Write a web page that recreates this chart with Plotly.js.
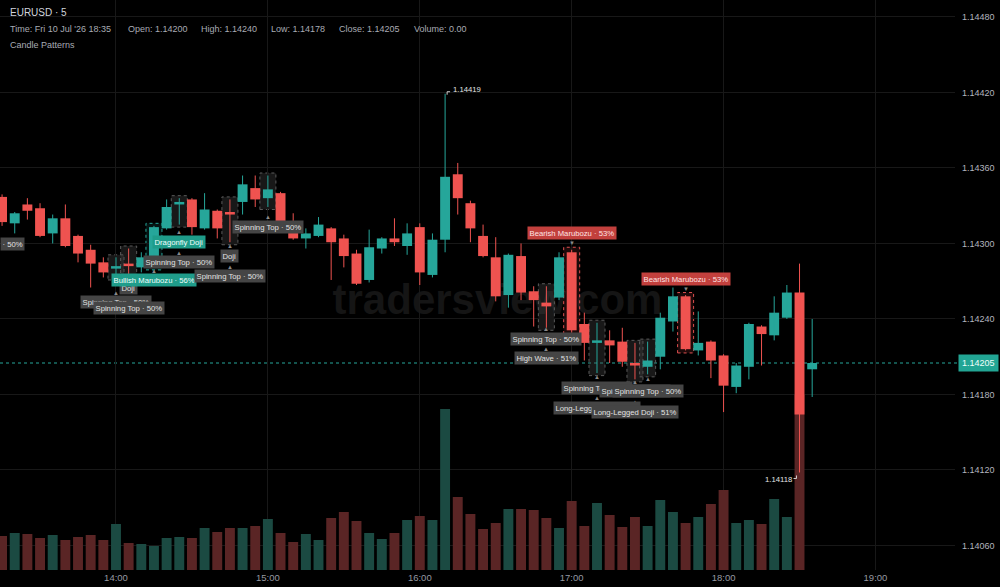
<!DOCTYPE html>
<html><head><meta charset="utf-8">
<script src="https://cdn.plot.ly/plotly-3.0.1.min.js"></script>
<style>html,body{margin:0;padding:0;background:#000;}#chart{width:1000px;height:587px;}</style>
</head><body><div id="chart"></div>
<script>
// ---------------- DATA ----------------
const day = '2026-07-10';
const times = ['13:15','13:20','13:25','13:30','13:35','13:40','13:45','13:50','13:55',
 '14:00','14:05','14:10','14:15','14:20','14:25','14:30','14:35','14:40','14:45','14:50','14:55',
 '15:00','15:05','15:10','15:15','15:20','15:25','15:30','15:35','15:40','15:45','15:50','15:55',
 '16:00','16:05','16:10','16:15','16:20','16:25','16:30','16:35','16:40','16:45','16:50','16:55',
 '17:00','17:05','17:10','17:15','17:20','17:25','17:30','17:35','17:40','17:45','17:50','17:55',
 '18:00','18:05','18:10','18:15','18:20','18:25','18:30','18:35'];
const open = [1.14337,1.14316,1.14331,1.14328,1.14308,1.14320,1.14306,1.14295,1.14285,
 1.14280,1.14283,1.14281,1.14282,1.14312,1.14331,1.14335,1.14312,1.14326,1.14324,1.14333,1.14344,
 1.14336,1.14340,1.14309,1.14304,1.14306,1.14312,1.14304,1.14292,1.14271,1.14296,1.14304,1.14298,
 1.14313,1.14275,1.14303,1.14355,1.14332,1.14306,1.14289,1.14259,1.14290,1.14262,1.14253,1.14257,
 1.14293,1.14236,1.14221,1.14223,1.14222,1.14204,1.14202,1.14210,1.14238,1.14258,1.14215,1.14222,
 1.14211,1.14186,1.14202,1.14234,1.14227,1.14241,1.14261,1.14200];
const high = [1.14339,1.14325,1.14336,1.14332,1.14323,1.14331,1.14307,1.14299,1.14289,
 1.14289,1.14296,1.14293,1.14314,1.14335,1.14336,1.14336,1.14340,1.14327,1.14335,1.14354,1.14354,
 1.14354,1.14341,1.14324,1.14312,1.14321,1.14313,1.14307,1.14295,1.14311,1.14305,1.14320,1.14316,
 1.14316,1.14308,1.14419,1.14364,1.14334,1.14315,1.14305,1.14292,1.14300,1.14266,1.14266,1.14293,
 1.14295,1.14245,1.14237,1.14231,1.14233,1.14221,1.14222,1.14245,1.14265,1.14259,1.14246,1.14223,
 1.14212,1.14205,1.14237,1.14235,1.14258,1.14267,1.14284,1.14240];
const low = [1.14314,1.14308,1.14319,1.14305,1.14300,1.14297,1.14285,1.14265,1.14273,
 1.14273,1.14273,1.14277,1.14281,1.14311,1.14315,1.14307,1.14311,1.14304,1.14301,1.14323,1.14329,
 1.14329,1.14313,1.14303,1.14296,1.14305,1.14271,1.14281,1.14267,1.14269,1.14292,1.14298,1.14291,
 1.14267,1.14273,1.14293,1.14323,1.14301,1.14289,1.14254,1.14249,1.14255,1.14234,1.14233,1.14255,
 1.14229,1.14207,1.14197,1.14205,1.14202,1.14192,1.14196,1.14200,1.14230,1.14215,1.14211,1.14193,
 1.14166,1.14181,1.14192,1.14203,1.14223,1.14240,1.14118,1.14178];
const close = [1.14317,1.14324,1.14326,1.14306,1.14320,1.14298,1.14292,1.14284,1.14277,
 1.14282,1.14282,1.14289,1.14313,1.14329,1.14332,1.14313,1.14327,1.14312,1.14323,1.14347,1.14335,
 1.14343,1.14316,1.14304,1.14308,1.14315,1.14301,1.14290,1.14268,1.14297,1.14304,1.14301,1.14308,
 1.14277,1.14303,1.14353,1.14336,1.14312,1.14290,1.14258,1.14291,1.14261,1.14255,1.14250,1.14289,
 1.14231,1.14221,1.14222,1.14219,1.14206,1.14203,1.14207,1.14241,1.14258,1.14216,1.14221,1.14207,
 1.14187,1.14203,1.14236,1.14228,1.14245,1.14261,1.14164,1.14205];
const volume = [340,370,360,320,350,300,330,350,300,
 460,270,260,240,320,330,320,420,380,420,420,440,
 510,370,280,360,300,520,580,490,370,310,370,500,
 540,500,1610,730,560,410,470,610,610,600,520,420,
 690,440,670,550,430,530,440,700,580,470,530,660,
 800,470,500,460,710,530,1750,0];

const priceTicks = [1.14060,1.14120,1.14180,1.14240,1.14300,1.14360,1.14420,1.14480];
const hourTicks = ['14:00','15:00','16:00','17:00','18:00','19:00'];
const lastPrice = 1.14205;

const patternTimes = ['14:00','14:05','14:05','14:15','14:25','14:25','14:45','14:45','15:00',
 '16:50','16:50','17:00','17:10','17:10','17:25','17:25','17:30','17:45'];
const patternNames = ['Spinning Top · 50%','Doji','Spinning Top · 50%','Bullish Marubozu · 56%',
 'Dragonfly Doji','Spinning Top · 50%','Doji','Spinning Top · 50%','Spinning Top · 50%',
 'Spinning Top · 50%','High Wave · 51%','Bearish Marubozu · 53%','Spinning Top · 50%',
 'Long-Legged Doji · 51%','Spinning Top · 50%','Long-Legged Doji · 51%','Spinning Top · 50%',
 'Bearish Marubozu · 53%'];
const patternKinds = ['neutral','neutral','neutral','bull','bull','neutral','neutral','neutral','neutral',
 'neutral','neutral','bear','neutral','neutral','neutral','neutral','neutral','bear'];
const boxTimes = ['14:00','14:05','14:15','14:25','14:45','15:00','16:50','17:00','17:10','17:25','17:30','17:45'];
const boxKinds = ['neutral','neutral','bull','neutral','neutral','neutral','neutral','bear','neutral','neutral','neutral','bear'];

const headerTitle = 'EURUSD · 5';
const headerFields = ["Time: Fri 10 Jul '26 18:35",'Open: 1.14200','High: 1.14240','Low: 1.14178','Close: 1.14205','Volume: 0.00'];
const headerIndicator = 'Candle Patterns';
const watermark = 'tradersview.com';

// ---------------- STYLE ----------------
const FONT = '"Liberation Sans", Arial, Helvetica, sans-serif';
const UP = '#26a69a', DN = '#ef5350', VUP = '#1b4a42', VDN = '#5a2525';
const W = 955, H = 570;
const px = v => v / W, py = v => 1 - v / H;
// label pixel offsets from candle low (below) / high (above)
const patternDy  = [25,11,31,13,17,37,14,34,20,11,30,17,15,35,12,33,17,16];
const patternTri = [16,null,22,4,7,28,4,25,10,1,21,7,4,25,3,23,5,6];
const headerX = [8,126,199,269,337,412];
const BARW = 235000;

const T = times.map(t => day + ' ' + t + ':00');
const idx = t => times.indexOf(t);
const isUp = close.map((c, i) => c >= open[i]);

const traces = [];
traces.push({type:'bar', x:T, y:volume, yaxis:'y', width:BARW,
  marker:{color:isUp.map(u => u ? VUP : VDN), line:{width:0}}, hoverinfo:'skip'});
function wick(sel, color){
  const x = [], y = [];
  T.forEach((t,i) => { if(sel(i)){ x.push(t,t,null); y.push(low[i],high[i],null); } });
  return {type:'scatter', mode:'lines', x, y, yaxis:'y2', line:{color, width:1}, hoverinfo:'skip'};
}
function body(sel, color){
  const x = [], b = [], h = [];
  T.forEach((t,i) => { if(sel(i)){ x.push(t); b.push(Math.min(open[i],close[i]));
    h.push(Math.max(Math.abs(close[i]-open[i]), 0.00002)); } });
  return {type:'bar', x, base:b, y:h, yaxis:'y2', width:BARW, marker:{color, line:{width:0}}, hoverinfo:'skip'};
}
traces.push(wick(i => isUp[i], UP), wick(i => !isUp[i], DN));
traces.push(body(i => isUp[i], UP), body(i => !isUp[i], DN));

const shapes = [];
// watermark
shapes.push({type:'rect', xref:'paper', yref:'paper', x0:px(325), x1:px(670), y0:py(315), y1:py(275),
  line:{width:0}, fillcolor:'rgba(0,0,0,0)', layer:'below',
  label:{text:watermark, textposition:'middle center', font:{size:42, color:'#151515', family:FONT, weight:'bold'}}});
// pattern boxes
const boxLine = {neutral:'#5a5a5a', bull:'#26a69a', bear:'#e05050'};
const boxFill = {neutral:'rgba(70,70,70,0.35)', bull:'rgba(38,166,154,0.12)', bear:'rgba(239,83,80,0.12)'};
boxTimes.forEach((t,k) => {
  const i = idx(t);
  shapes.push({type:'rect', xref:'x', yref:'y2', xsizemode:'pixel', xanchor:T[i], x0:-8, x1:8,
    y0:low[i]-0.00002, y1:high[i]+0.00002, layer:'below',
    line:{color:boxLine[boxKinds[k]], width:1, dash:'dot'}, fillcolor:boxFill[boxKinds[k]]});
});
// current price line
shapes.push({type:'line', xref:'paper', yref:'y2', x0:0, x1:1.012, y0:lastPrice, y1:lastPrice,
  line:{color:UP, width:1, dash:'3px,3px'}, layer:'below'});
// hi / lo brackets
const hiI = high.indexOf(Math.max(...high)), loI = low.indexOf(Math.min(...low));
shapes.push({type:'path', xref:'x', yref:'y2', xsizemode:'pixel', ysizemode:'pixel', xanchor:T[hiI], yanchor:high[hiI],
  path:'M 2 -1 L 2 2 L 5 2', line:{color:'#d0d0d0', width:1}});
shapes.push({type:'path', xref:'x', yref:'y2', xsizemode:'pixel', ysizemode:'pixel', xanchor:T[loI], yanchor:low[loI],
  path:'M -6 -6 L -3 -6 L -3 -3', line:{color:'#d0d0d0', width:1}});

const annotations = [];
// header
annotations.push({xref:'paper', yref:'paper', x:px(8), y:py(13), xanchor:'left', yanchor:'middle', showarrow:false,
  text:headerTitle, font:{size:10, color:'#d1d4dc', family:FONT}});
headerFields.forEach((f,k) => annotations.push({xref:'paper', yref:'paper', x:px(headerX[k]), y:py(29),
  xanchor:'left', yanchor:'middle', showarrow:false, text:f, font:{size:9, color:'#a8abb3', family:FONT}}));
annotations.push({xref:'paper', yref:'paper', x:px(8), y:py(45), xanchor:'left', yanchor:'middle', showarrow:false,
  text:headerIndicator, font:{size:9, color:'#a8abb3', family:FONT}});

const labBg = {neutral:'#454545', bull:'#1f9c8a', bear:'#c2403d'};
const labFg = {neutral:'#e2e2e2', bull:'#f0fffc', bear:'#ffe4e4'};
// left clipped label
annotations.push({xref:'paper', yref:'paper', x:0, y:py(244), xanchor:'left', yanchor:'middle', showarrow:false,
  text:'· 50%', bgcolor:labBg.neutral, borderpad:1.5, font:{size:7.7, color:labFg.neutral, family:FONT}});
// triangles
patternTimes.forEach((t,k) => {
  if(patternTri[k] === null) return;
  const i = idx(t), above = patternKinds[k] === 'bear';
  annotations.push({xref:'x', yref:'y2', x:T[i], y:above ? high[i] : low[i], yshift:above ? patternTri[k] : -patternTri[k],
    showarrow:false, text:above ? '▼' : '▲', font:{size:6, color:'#8a8a8a'}, xanchor:'center', yanchor:'middle'});
});
// labels
patternTimes.forEach((t,k) => {
  const i = idx(t), kind = patternKinds[k], above = kind === 'bear';
  annotations.push({xref:'x', yref:'y2', x:T[i], y:above ? high[i] : low[i], yshift:above ? patternDy[k] : -patternDy[k],
    showarrow:false, text:patternNames[k], bgcolor:labBg[kind], borderpad:1.5,
    font:{size:7.7, color:labFg[kind], family:FONT}, xanchor:'center', yanchor:'middle'});
});
// hi / lo values
annotations.push({xref:'x', yref:'y2', x:T[hiI], y:high[hiI], xanchor:'left', yanchor:'middle', xshift:6, yshift:4,
  showarrow:false, text:high[hiI].toFixed(5), font:{size:7.7, color:'#e6e6e6', family:FONT}});
annotations.push({xref:'x', yref:'y2', x:T[loI], y:low[loI], xanchor:'right', yanchor:'middle', xshift:-6, yshift:-7,
  showarrow:false, text:low[loI].toFixed(5), font:{size:7.7, color:'#e6e6e6', family:FONT}});
// last price tag
annotations.push({xref:'paper', yref:'y2', x:1, y:lastPrice, xanchor:'left', yanchor:'middle', xshift:3,
  showarrow:false, text:lastPrice.toFixed(5), bgcolor:'#22a594', borderpad:3,
  font:{size:9, color:'#effffb', family:FONT}});

const layout = {
  width:1000, height:587, margin:{l:0, r:45, t:0, b:17},
  paper_bgcolor:'#000', plot_bgcolor:'#000', showlegend:false, barmode:'overlay',
  font:{family:FONT, color:'#b2b5be', size:9},
  xaxis:{type:'date', range:[day+' 13:14:11', day+' 19:31:25'],
    tickvals:hourTicks.map(h => day+' '+h+':00'), ticktext:hourTicks,
    showgrid:true, gridcolor:'#181818', zeroline:false, showline:false, ticks:'',
    tickfont:{size:9.5, color:'#9598a1'}, fixedrange:true},
  yaxis:{range:[0,5700], visible:false, fixedrange:true},
  yaxis2:{overlaying:'y', side:'right', range:[1.140405,1.144935],
    tickvals:priceTicks, ticktext:priceTicks.map(v => v.toFixed(5)),
    showgrid:true, gridcolor:'#181818', zeroline:false, showline:false, ticks:'',
    ticklabelstandoff:6, tickfont:{size:9, color:'#b2b5be'}, fixedrange:true},
  shapes, annotations
};
Plotly.newPlot('chart', traces, layout, {displayModeBar:false, staticPlot:true});
</script></body></html>
